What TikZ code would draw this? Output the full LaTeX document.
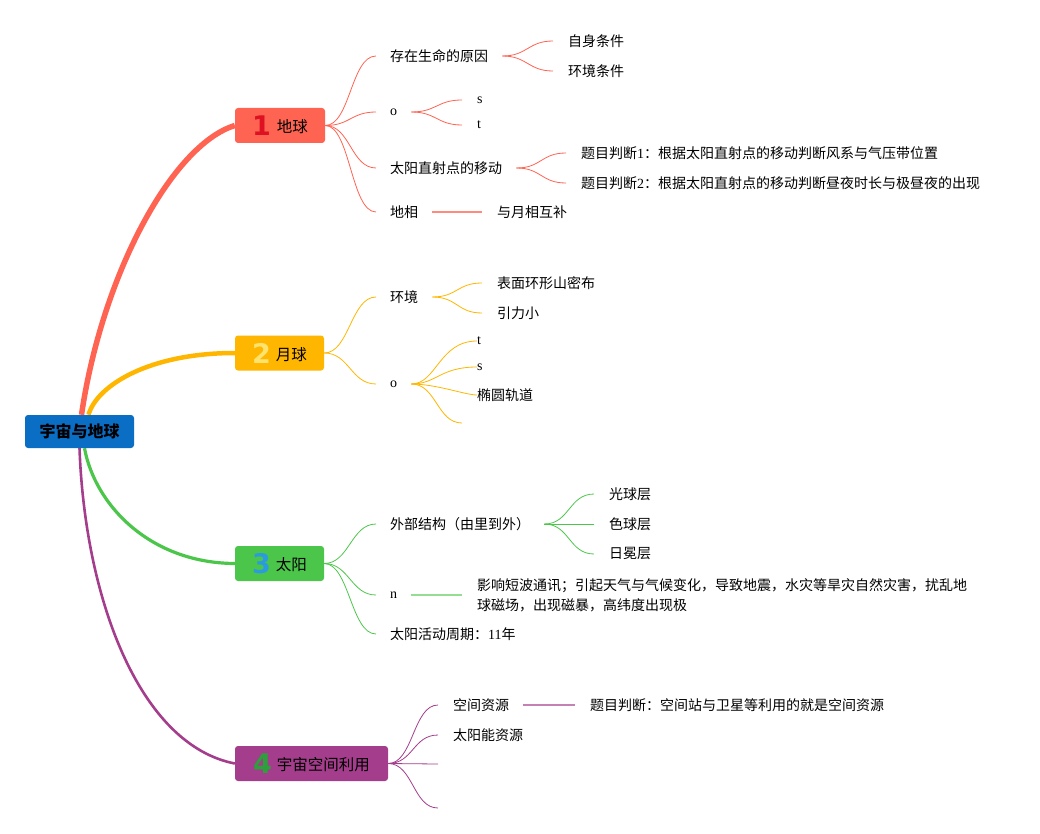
\documentclass[tikz,border=0pt]{standalone}
\usepackage{fontspec}
\setmainfont{Liberation Serif}
\newfontfamily\cjk{Noto Sans CJK SC}
\newfontfamily\numfont{DejaVu Sans Bold}
\pgfdeclarelayer{background}
\pgfsetlayers{background,main}
\definecolor{rootblue}{HTML}{0B6EC5}
\definecolor{cred}{HTML}{FF6352}
\definecolor{cyel}{HTML}{FFB600}
\definecolor{cgrn}{HTML}{4CC64A}
\definecolor{cpur}{HTML}{A43D8B}
\definecolor{dred}{HTML}{DD1122}
\definecolor{dyel}{HTML}{FFE36E}
\definecolor{dblu}{HTML}{2B9BE0}
\definecolor{dgrn}{HTML}{2CA03A}
\newcommand{\dig}[2]{\raisebox{-3pt}{\numfont\fontsize{27}{27}\selectfont\color{#1}#2}}
\tikzset{
  rootbox/.style={fill=rootblue, rounded corners=3pt, minimum width=109pt, minimum height=33pt, inner sep=0pt, font=\cjk\bfseries\fontsize{16}{18}\selectfont},
  topicbox/.style={rounded corners=3pt, minimum height=35pt, inner sep=0pt, font=\cjk\fontsize{15.5}{18}\selectfont},
  lbl/.style={anchor=west, inner sep=0pt, font=\cjk\fontsize{14}{20}\selectfont, align=left},
  lat/.style={anchor=west, inner sep=0pt, font=\rmfamily\fontsize{14}{16}\selectfont},
  thin/.style={line width=0.8pt},
  lnk/.style={line width=1.6pt}
}
\begin{document}
\begin{tikzpicture}[x=1pt,y=-1pt]
\useasboundingbox (0,0) rectangle (1040,834);
% root and topics
\node[rootbox] (root) at (79.5,431.5) {宇宙与地球};
\node[topicbox, fill=cred, minimum width=90pt] (t1) at (280,125.5) {\dig{dred}{1}\hspace{6pt}地球};
\node[topicbox, fill=cyel, minimum width=89pt] (t2) at (279.5,353) {\dig{dyel}{2}\hspace{5pt}月球};
\node[topicbox, fill=cgrn, minimum width=89pt] (t3) at (279.5,563.5) {\dig{dblu}{3}\hspace{5pt}太阳};
\node[topicbox, fill=cpur, minimum width=153pt] (t4) at (311.5,763.5) {\dig{dgrn}{4}\hspace{5pt}宇宙空间利用};
% topic 1 children
\node[lbl] (a1) at (390,56) {存在生命的原因};
\node[lat] (a2) at (390,112) {o};
\node[lbl] (a3) at (390,168) {太阳直射点的移动};
\node[lbl] (a4) at (390,212) {地相};
\node[lbl] (a11) at (568,41) {自身条件};
\node[lbl] (a12) at (568,71) {环境条件};
\node[lat] (a21) at (477,100) {s};
\node[lat] (a22) at (477,125) {t};
\node[lbl] (a31) at (581,153) {题目判断{\rmfamily 1}：根据太阳直射点的移动判断风系与气压带位置};
\node[lbl] (a32) at (581,183) {题目判断{\rmfamily 2}：根据太阳直射点的移动判断昼夜时长与极昼夜的出现};
\node[lbl] (a41) at (497,212) {与月相互补};
% topic 2 children
\node[lbl] (b1) at (390,297) {环境};
\node[lat] (b2) at (390,384) {o};
\node[lbl] (b11) at (497,283) {表面环形山密布};
\node[lbl] (b12) at (497,313) {引力小};
\node[lat] (b21) at (477,341) {t};
\node[lat] (b22) at (477,367) {s};
\node[lbl] (b23) at (477,395) {椭圆轨道};
\coordinate (b24) at (477,423);
% topic 3 children
\node[lbl] (c1) at (390,524) {外部结构（由里到外）};
\node[lat] (c2) at (390,595) {n};
\node[lbl] (c3) at (390,634) {太阳活动周期：{\rmfamily 11}年};
\node[lbl] (c11) at (609,494) {光球层};
\node[lbl] (c12) at (609,524) {色球层};
\node[lbl] (c13) at (609,554) {日冕层};
\node[lbl] (c21) at (477,595) {影响短波通讯；引起天气与气候变化，导致地震，水灾等旱灾自然灾害，扰乱地\\球磁场，出现磁暴，高纬度出现极};
% topic 4 children
\node[lbl] (d1) at (453,705) {空间资源};
\node[lbl] (d2) at (453,735) {太阳能资源};
\coordinate (d3) at (453,764);
\coordinate (d4) at (453,808);
\node[lbl] (d11) at (590,705) {题目判断：空间站与卫星等利用的就是空间资源};

\begin{pgfonlayer}{background}
% main branches
\draw[cred, line width=5.5pt] ([xshift=2pt]root.north) .. controls (102,275) and (172,145) .. (t1.west);
\draw[cyel, line width=4.5pt] ([xshift=9pt]root.north) .. controls (97,385) and (150,353) .. (t2.west);
\draw[cgrn, line width=3.2pt] ([xshift=5pt]root.south) .. controls (95,505) and (150,563) .. (t3.west);
\draw[cpur, line width=2.6pt] ([xshift=0pt]root.south) .. controls (85,600) and (140,745) .. (t4.west);
% topic 1
\foreach \n in {a1,a2,a3,a4}
  \draw[cred, thin] (t1.east) .. controls +(25,0) and +(-25,0) .. ([xshift=-14pt]\n.west);
\foreach \n in {a11,a12}
  \draw[cred, thin] ([xshift=14pt]a1.east) .. controls +(25,0) and +(-25,0) .. ([xshift=-15pt]\n.west);
\foreach \n in {a21,a22}
  \draw[cred, thin] ([xshift=14pt]a2.east) .. controls +(25,0) and +(-25,0) .. ([xshift=-15pt]\n.west);
\foreach \n in {a31,a32}
  \draw[cred, thin] ([xshift=14pt]a3.east) .. controls +(25,0) and +(-25,0) .. ([xshift=-15pt]\n.west);
\draw[cred!75, lnk] ([xshift=14pt]a4.east) -- ([xshift=-15pt]a41.west);
% topic 2
\foreach \n in {b1,b2}
  \draw[cyel, thin] (t2.east) .. controls +(25,0) and +(-25,0) .. ([xshift=-14pt]\n.west);
\foreach \n in {b11,b12}
  \draw[cyel, thin] ([xshift=14pt]b1.east) .. controls +(25,0) and +(-25,0) .. ([xshift=-15pt]\n.west);
\foreach \n in {b21,b22,b23,b24}
  \draw[cyel, thin] ([xshift=14pt]b2.east) .. controls +(25,0) and +(-25,0) .. ([xshift=-15pt]\n);
% topic 3
\foreach \n in {c1,c2,c3}
  \draw[cgrn, thin] (t3.east) .. controls +(25,0) and +(-25,0) .. ([xshift=-14pt]\n.west);
\foreach \n in {c11,c12,c13}
  \draw[cgrn, thin] ([xshift=14pt]c1.east) .. controls +(25,0) and +(-25,0) .. ([xshift=-15pt]\n.west);
\draw[cgrn!60, lnk] ([xshift=14pt]c2.east) -- ([xshift=-15pt]c21.west);
% topic 4
\foreach \n in {d1,d2}
  \draw[cpur, thin] (t4.east) .. controls +(25,0) and +(-25,0) .. ([xshift=-15pt]\n.west);
\foreach \n in {d3,d4}
  \draw[cpur, thin] (t4.east) .. controls +(25,0) and +(-25,0) .. ([xshift=-15pt]\n);
\draw[cpur!65, lnk] ([xshift=14pt]d1.east) -- ([xshift=-15pt]d11.west);
\end{pgfonlayer}
\end{tikzpicture}
\end{document}
